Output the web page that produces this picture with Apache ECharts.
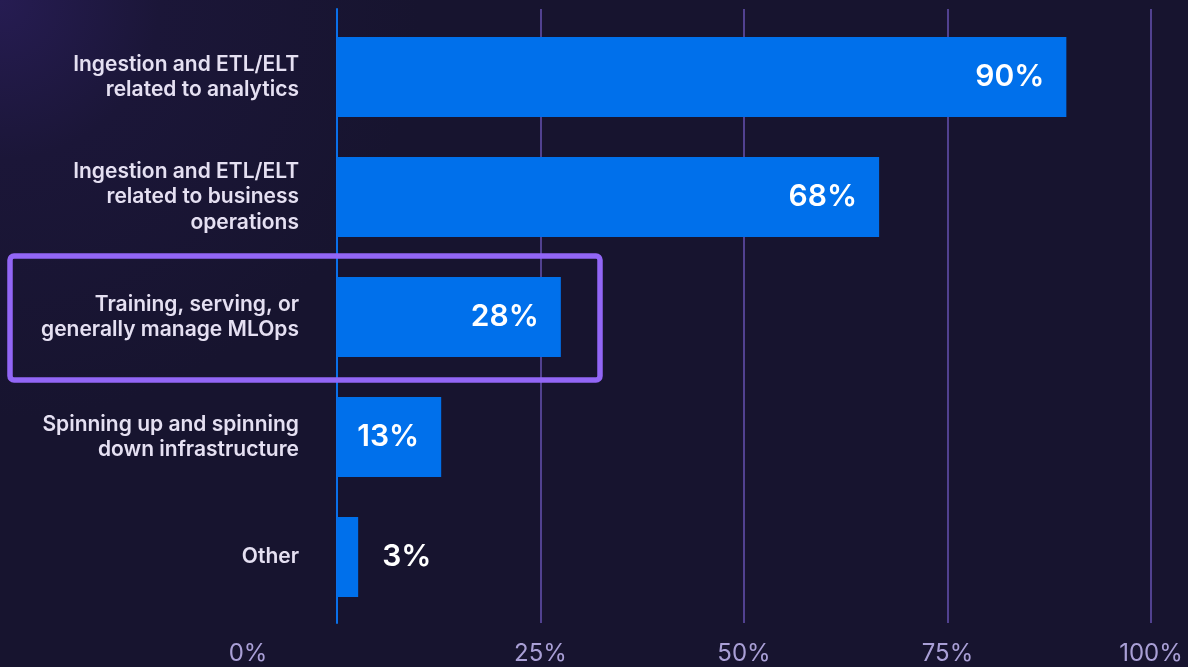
<!DOCTYPE html>
<html>
<head>
<meta charset="utf-8">
<script src="https://cdn.jsdelivr.net/npm/echarts@6/dist/echarts.min.js"></script>
<style>
html,body{margin:0;padding:0;width:1188px;height:667px;overflow:hidden;
background:radial-gradient(circle at 0 0,#261c52 0,#1b1638 160px,#17142f 420px);}
#c{width:1188px;height:667px;}
</style>
</head>
<body>
<div id="c"></div>
<script>
const categories = [
  'Ingestion and ETL/ELT\nrelated to analytics',
  'Ingestion and ETL/ELT\nrelated to business\noperations',
  'Training, serving, or\ngenerally manage MLOps',
  'Spinning up and spinning\ndown infrastructure',
  'Other'
];
const values = [89.6, 66.6, 27.5, 12.8, 2.6];
const valueLabels = ['90%', '68%', '28%', '13%', '3%'];
const tickLabels = ['0%', '25%', '50%', '75%', '100%'];
const highlightIndex = 2;

const chart = echarts.init(document.getElementById('c'), null, {renderer: 'canvas'});

const barData = values.map((v, i) => ({
  value: v,
  label: v < 6 ? {position: 'right', distance: 24} : {position: 'insideRight', distance: 22}
}));

const option = {
  backgroundColor: 'transparent',
  animation: false,
  grid: [
    {left: 337, right: 37, top: 17, bottom: 50},
    {left: 337, right: 37, top: 9, bottom: 44}
  ],
  xAxis: [
    {gridIndex: 0, type: 'value', min: 0, max: 100, interval: 25,
     axisLine: {show: false}, axisTick: {show: false}, axisLabel: {show: false}, splitLine: {show: false}},
    {gridIndex: 1, type: 'value', min: 0, max: 100, interval: 25,
     axisLine: {show: false}, axisTick: {show: false},
     splitLine: {show: true, lineStyle: {color: '#514190', width: 2}},
     axisLabel: {
       margin: 19,
       color: '#a99fd6', fontFamily: 'Inter', fontSize: 24, fontWeight: 400,
       formatter: function (v) {
         const idx = Math.round(v / 25);
         const t = tickLabels[idx];
         return idx === 0 ? '{z|' + t + '}' : t;
       },
       rich: {z: {color: '#a99fd6', fontFamily: 'Inter', fontSize: 24, padding: [0, 178, 0, 0]}}
     }}
  ],
  yAxis: [
    {gridIndex: 0, type: 'category', data: categories, inverse: true,
     axisLine: {show: false}, axisTick: {show: false}, splitLine: {show: false},
     axisLabel: {margin: 38, color: '#e5e0f2', fontFamily: 'Inter', fontSize: 21, fontWeight: 600,
       lineHeight: 25.5, align: 'right', padding: [4, 0, 0, 0]}},
    {gridIndex: 1, type: 'value', min: 0, max: 1,
     axisLine: {show: true, lineStyle: {color: '#0a70ea', width: 2}},
     axisTick: {show: false}, axisLabel: {show: false}, splitLine: {show: false}}
  ],
  series: [{
    type: 'bar',
    xAxisIndex: 0, yAxisIndex: 0,
    data: barData,
    barWidth: 80,
    itemStyle: {color: '#0070eb'},
    label: {show: true, color: '#ffffff', fontFamily: 'Inter', fontSize: 30, fontWeight: 600,
      formatter: p => valueLabels[p.dataIndex]},
    z: 5
  }],
  graphic: []
};
chart.setOption(option);

// highlight box around the highlighted category, positioned from the axis scale
const yc = chart.convertToPixel({gridIndex: 0}, [0, highlightIndex])[1];
chart.setOption({graphic: [{
  type: 'rect', z: 100,
  shape: {x: 10, y: yc - 61, width: 590, height: 124, r: 4},
  style: {fill: 'none', stroke: '#9266f6', lineWidth: 5.5}
}]});
</script>
</body>
</html>
